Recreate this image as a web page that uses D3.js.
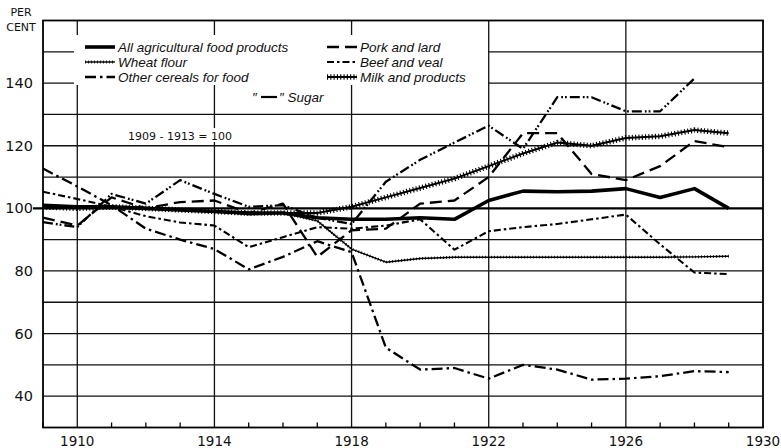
<!DOCTYPE html>
<html>
<head>
<meta charset="utf-8">
<script src="https://cdn.jsdelivr.net/npm/d3@7"></script>
<style>
  body { margin: 0; background: #fff; }
  svg { display: block; }
  .num { font-family: "DejaVu Sans", sans-serif; fill: #111; }
  .leg { font-family: "Liberation Sans", Arial, sans-serif; font-style: italic; fill: #111; }
</style>
</head>
<body>
<div id="chart"></div>
<script>
// years of the series
var years = [1909, 1910, 1911, 1912, 1913, 1914, 1915, 1916, 1917, 1918, 1919,
  1920, 1921, 1922, 1923, 1924, 1925, 1926, 1927, 1928, 1929];

// per cent of 1909-1913
var allFood = [101, 100.5, 100.5, 100, 99.5, 99, 98.5, 98.5, 97, 96.5, 96.5,
  97, 96.5, 102.5, 105.5, 105.3, 105.5, 106.3, 103.5, 106.3, 100];
var wheatFlour = [100, 100.5, 100, 100, 99.5, 99, 98, 98.5, 96, 87, 82.8,
  84, 84.4, 84.4, 84.4, 84.4, 84.4, 84.4, 84.4, 84.5, 84.7];
var otherCereals = [112.7, 107, 101, 93.5, 90, 87, 80.5, 84.5, 89.5, 86, 55.5,
  48.5, 49, 45.6, 50, 48.5, 45.3, 45.6, 46.4, 48, 47.7];
var porkLard = [97, 94.5, 103.5, 100, 102, 102.5, 98.5, 101.5, 84.5, 93, 93.5,
  101.5, 102.5, 110, 124, 124, 111, 109, 113.5, 121.5, 119.5];
var beefVeal = [105.3, 103, 100.5, 97.5, 95.5, 94.5, 87.6, 90.8, 94, 93.5, 94.5,
  96.5, 86.8, 92.7, 94, 95, 96.5, 98, 88.5, 79.5, 79];
var milkProducts = [100.5, 100, 100.5, 100, 99.5, 99, 98.5, 98.5, 98.5, 100.5, 103.5,
  106.5, 109.5, 113.5, 117.5, 121, 120, 122.5, 123, 125, 124];
// sugar stops at 1928
var sugar = [95.6, 94, 104.6, 101.5, 109, 104.6, 100.5, 101, 97, 95, 108.5,
  115.5, 121, 126.4, 119, 135.5, 135.5, 131, 131, 141.5];

var yTicks = [40, 60, 80, 100, 120, 140];
var xTicks = [1910, 1914, 1918, 1922, 1926, 1930];
var yGrid = [40, 50, 60, 70, 80, 90, 110, 120, 130, 140, 150];
var xGrid = [1910, 1914, 1918, 1922, 1926];

var width = 781,
  height = 448,
  plot = { left: 43, right: 763, top: 20.5, bottom: 427.5 };

var svg = d3.select("#chart").append("svg")
  .attr("width", width)
  .attr("height", height);

var x = d3.scaleLinear().domain([1909, 1930]).range([plot.left, plot.right]);
var y = d3.scaleLinear().domain([30, 160]).range([plot.bottom, plot.top]);

// grid
svg.append("g").selectAll("line")
  .data(yGrid)
  .enter().append("line")
  .attr("x1", plot.left).attr("x2", plot.right)
  .attr("y1", d => y(d)).attr("y2", d => y(d))
  .attr("stroke", "#111").attr("stroke-width", 1.3);

svg.append("g").selectAll("line")
  .data(xGrid)
  .enter().append("line")
  .attr("x1", d => x(d)).attr("x2", d => x(d))
  .attr("y1", plot.top).attr("y2", plot.bottom)
  .attr("stroke", "#111").attr("stroke-width", 1.3);

// heavy base line at 100, with its tick past the axis
svg.append("line")
  .attr("x1", plot.left - 10).attr("x2", plot.right)
  .attr("y1", y(100)).attr("y2", y(100))
  .attr("stroke", "#000").attr("stroke-width", 2.4);

// small year ticks on the bottom axis
svg.append("g").selectAll("line")
  .data(years.filter(d => xGrid.indexOf(d) < 0))
  .enter().append("line")
  .attr("x1", d => x(d)).attr("x2", d => x(d))
  .attr("y1", plot.bottom).attr("y2", plot.bottom - 5)
  .attr("stroke", "#000").attr("stroke-width", 1.3);

// frame
svg.append("rect")
  .attr("x", plot.left).attr("y", plot.top)
  .attr("width", plot.right - plot.left).attr("height", plot.bottom - plot.top)
  .attr("fill", "none").attr("stroke", "#000").attr("stroke-width", 1.8);

// white patches behind the key and the base note
svg.append("rect").attr("x", 74).attr("y", 35).attr("width", 414).attr("height", 50).attr("fill", "#fff");
svg.append("rect").attr("x", 250).attr("y", 89).attr("width", 76).attr("height", 15).attr("fill", "#fff");
svg.append("rect").attr("x", 127).attr("y", 128).attr("width", 106).attr("height", 14).attr("fill", "#fff");

// axis labels
svg.append("g").selectAll("text")
  .data(yTicks)
  .enter().append("text")
  .attr("class", "num")
  .attr("x", 33)
  .attr("y", d => y(d) + 5)
  .attr("text-anchor", "end")
  .attr("font-size", "14.5px")
  .text(d => d);

svg.append("g").selectAll("text")
  .data(xTicks)
  .enter().append("text")
  .attr("class", "num")
  .attr("x", d => x(d))
  .attr("y", 446)
  .attr("text-anchor", "middle")
  .attr("font-size", "13.5px")
  .text(d => d);

svg.append("text").attr("class", "num").attr("x", 21).attr("y", 16)
  .attr("text-anchor", "middle").attr("font-size", "11px").text("PER");
svg.append("text").attr("class", "num").attr("x", 21).attr("y", 31)
  .attr("text-anchor", "middle").attr("font-size", "11px").text("CENT");

svg.append("text").attr("class", "num")
  .attr("x", 180).attr("y", 140)
  .attr("text-anchor", "middle").attr("font-size", "11px")
  .text("1909 - 1913 = 100");

// series styles
var series = [
  { name: "All agricultural food products", values: allFood, width: 3.6, dash: null },
  { name: "Wheat flour", values: wheatFlour, width: 1.4, dash: null, hatch: [2.8, "0.8,2.2"] },
  { name: "Other cereals for food", values: otherCereals, width: 2.3, dash: "11,4,2.5,4" },
  { name: "Pork and lard", values: porkLard, width: 2.3, dash: "12,6" },
  { name: "Beef and veal", values: beefVeal, width: 2.1, dash: "7,3,2.5,3" },
  { name: "Milk and products", values: milkProducts, width: 2, dash: null, hatch: [5.5, "1.1,2.2"] },
  { name: "Sugar", values: sugar, width: 2.3, dash: "10,3,1.8,2,1.8,3" }
];

var line = d3.line()
  .x((d, i) => x(years[i]))
  .y(d => y(d));

series.forEach(function(s) {
  svg.append("path")
    .attr("d", line(s.values))
    .attr("fill", "none")
    .attr("stroke", "#000")
    .attr("stroke-width", s.width)
    .attr("stroke-linejoin", "round")
    .attr("stroke-dasharray", s.dash);
  if (s.hatch) {
    svg.append("path")
      .attr("d", line(s.values))
      .attr("fill", "none")
      .attr("stroke", "#000")
      .attr("stroke-width", s.hatch[0])
      .attr("stroke-dasharray", s.hatch[1]);
  }
});

// key
var key = [
  { s: series[0], x: 85, y: 47 },
  { s: series[1], x: 85, y: 62 },
  { s: series[2], x: 85, y: 77 },
  { s: series[3], x: 327, y: 47 },
  { s: series[4], x: 327, y: 62 },
  { s: series[5], x: 327, y: 77 }
];

key.forEach(function(k) {
  var seg = "M" + k.x + "," + k.y + "H" + (k.x + 30);
  svg.append("path")
    .attr("d", seg)
    .attr("stroke", "#000")
    .attr("stroke-width", k.s.width)
    .attr("stroke-dasharray", k.s.dash);
  if (k.s.hatch) {
    svg.append("path")
      .attr("d", seg)
      .attr("stroke", "#000")
      .attr("stroke-width", k.s.hatch[0])
      .attr("stroke-dasharray", k.s.hatch[1]);
  }
  svg.append("text")
    .attr("class", "leg")
    .attr("x", k.x + 33)
    .attr("y", k.y + 4.5)
    .attr("font-size", "13.5px")
    .text(k.s.name);
});

// sugar key: ditto marks round a dash
svg.append("text").attr("class", "leg").attr("x", 252).attr("y", 102)
  .attr("font-size", "13.5px").text("\u2033");
svg.append("line").attr("x1", 261).attr("x2", 277).attr("y1", 97).attr("y2", 97)
  .attr("stroke", "#000").attr("stroke-width", 2.2);
svg.append("text").attr("class", "leg").attr("x", 279).attr("y", 102)
  .attr("font-size", "13.5px").text("\u2033 Sugar");
</script>
</body>
</html>
